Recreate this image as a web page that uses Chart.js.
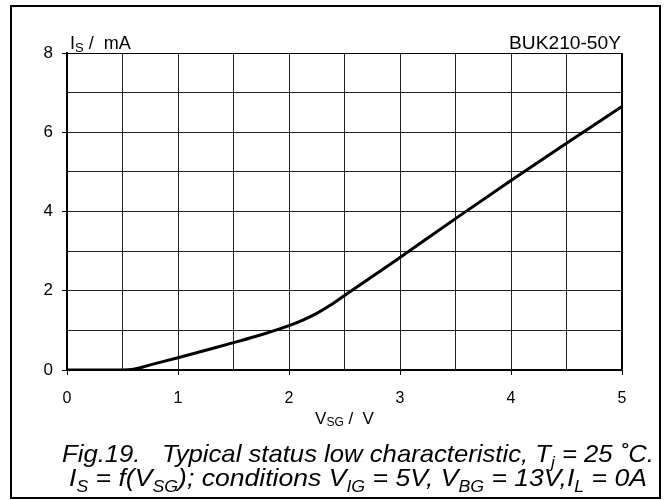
<!DOCTYPE html>
<html>
<head>
<meta charset="utf-8">
<script src="https://cdn.jsdelivr.net/npm/chart.js@4/dist/chart.umd.min.js"></script>
<style>
  html, body { margin: 0; padding: 0; background: #fff; }
  #wrap { width: 665px; height: 500px; position: relative; }
</style>
</head>
<body>
<div id="wrap"><canvas id="chart" width="665" height="500"></canvas></div>
<script>
// Data
const vsg = [0, 0.25, 0.5, 0.6, 0.75, 1, 1.25, 1.5, 1.75, 2, 2.125, 2.25, 2.375, 2.5, 2.75, 3, 3.5, 4, 4.5, 5];
const isMilliAmp = [0, 0, 0, 0.02, 0.13, 0.31, 0.5, 0.69, 0.89, 1.12, 1.26, 1.43, 1.64, 1.88, 2.36, 2.84, 3.82, 4.78, 5.72, 6.65];

// Tick labels
const xTickLabels = [0, 1, 2, 3, 4, 5];
const yTickLabels = [0, 2, 4, 6, 8];

const baseFont = "'Liberation Sans', Arial, sans-serif";

// draw text made of [text, isSub] parts, optionally squeezed/stretched to a width
function drawRich(ctx, parts, x, y, size, subSize, drop, italic, align, fitWidth) {
  const style = italic ? 'italic ' : '';
  let total = 0;
  parts.forEach(p => {
    ctx.font = style + (p[1] ? subSize : size) + 'px ' + baseFont;
    total += ctx.measureText(p[0]).width;
  });
  const sx = fitWidth ? fitWidth / total : 1;
  const w = total * sx;
  let cx = x;
  if (align === 'center') cx = x - w / 2;
  if (align === 'right') cx = x - w;
  ctx.save();
  ctx.translate(cx, y);
  ctx.scale(sx, 1);
  ctx.textBaseline = 'alphabetic';
  ctx.textAlign = 'left';
  let px = 0;
  parts.forEach(p => {
    ctx.font = style + (p[1] ? subSize : size) + 'px ' + baseFont;
    ctx.fillText(p[0], px, p[1] ? drop : 0);
    px += ctx.measureText(p[0]).width;
  });
  ctx.restore();
}

const decorPlugin = {
  id: 'decor',
  afterDraw(chart) {
    const ctx = chart.ctx;
    const a = chart.chartArea;
    ctx.save();
    ctx.fillStyle = '#000';
    ctx.strokeStyle = '#000';

    // plot frame top and right
    ctx.lineWidth = 1;
    ctx.beginPath();
    ctx.moveTo(a.left, a.top + 0.5);
    ctx.lineTo(a.right, a.top + 0.5);
    ctx.stroke();
    ctx.lineWidth = 2;
    ctx.beginPath();
    ctx.moveTo(a.right, a.top);
    ctx.lineTo(a.right, a.bottom);
    ctx.stroke();

    // outer frame
    ctx.lineWidth = 2;
    ctx.strokeRect(11, 6, 649, 492);

    // axis titles
    drawRich(ctx, [['I', false], ['S', true], [' /  mA', false]], 70, 49, 18, 13, 3, false, 'left');
    drawRich(ctx, [['BUK210-50Y', false]], 621, 49, 18, 13, 0, false, 'right', 112);
    drawRich(ctx, [['V', false], ['SG', true], [' /  V', false]], (a.left + a.right) / 2, 424, 17, 12, 2, false, 'center');

    // caption
    drawRich(ctx, [['Fig.19.   Typical status low characteristic, T', false], ['j', true], [' = 25 ˚C.', false]],
      62, 462, 24, 16, 6, true, 'left', 592);
    drawRich(ctx, [['I', false], ['S', true], [' = f(V', false], ['SG', true], ['); conditions V', false], ['IG', true],
      [' = 5V, V', false], ['BG', true], [' = 13V,I', false], ['L', true], [' = 0A', false]],
      69, 486, 24, 16, 6, true, 'left', 578);
    ctx.restore();
  }
};

const ctx = document.getElementById('chart').getContext('2d');
new Chart(ctx, {
  type: 'scatter',
  data: {
    datasets: [{
      data: vsg.map((v, i) => ({ x: v, y: isMilliAmp[i] })),
      showLine: true,
      borderColor: '#000',
      borderWidth: 3,
      pointRadius: 0,
      cubicInterpolationMode: 'monotone',
      fill: false
    }]
  },
  options: {
    responsive: false,
    animation: false,
    layout: { padding: { left: 0, top: 53, right: 43, bottom: 0 } },
    plugins: {
      legend: { display: false },
      tooltip: { enabled: false }
    },
    scales: {
      x: {
        type: 'linear',
        min: 0,
        max: 5,
        afterFit: s => { s.height = 130; },
        ticks: {
          stepSize: 0.5,
          autoSkip: false,
          maxRotation: 0,
          padding: 14,
          color: '#000',
          font: { family: baseFont, size: 16 },
          callback: v => xTickLabels.includes(v) ? String(v) : ''
        },
        grid: {
          color: '#222',
          lineWidth: 1,
          drawTicks: true,
          tickLength: 5,
          tickColor: c => (c.tick && xTickLabels.includes(c.tick.value)) ? '#000' : 'rgba(0,0,0,0)'
        },
        border: { display: true, color: '#000', width: 2 }
      },
      y: {
        type: 'linear',
        min: 0,
        max: 8,
        afterFit: s => { s.width = 67; },
        ticks: {
          stepSize: 1,
          autoSkip: false,
          padding: 9,
          color: '#000',
          font: { family: baseFont, size: 17 },
          callback: v => yTickLabels.includes(v) ? String(v) : ''
        },
        grid: {
          color: '#222',
          lineWidth: 1,
          drawTicks: true,
          tickLength: 5,
          tickColor: c => (c.tick && yTickLabels.includes(c.tick.value)) ? '#000' : 'rgba(0,0,0,0)'
        },
        border: { display: true, color: '#000', width: 2 }
      }
    }
  },
  plugins: [decorPlugin]
});
</script>
</body>
</html>
